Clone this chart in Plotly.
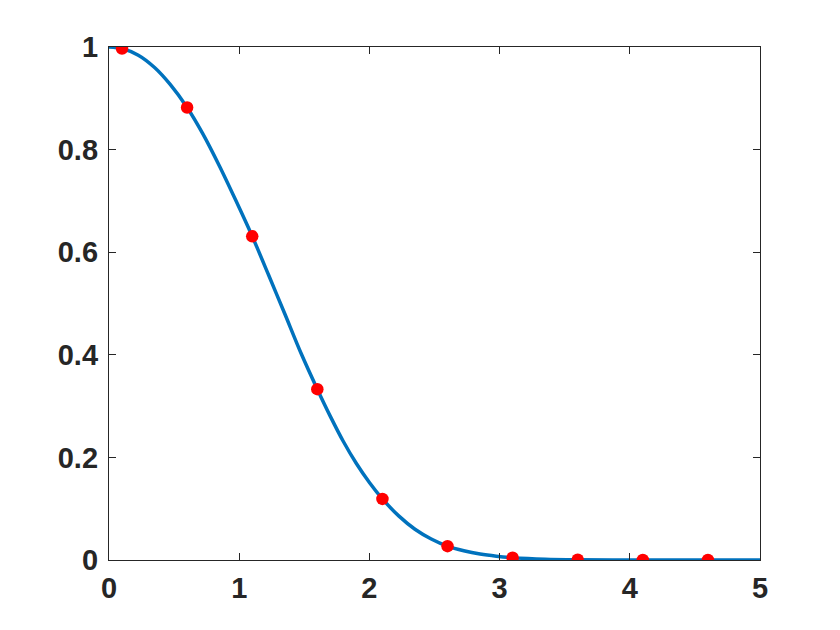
import plotly.graph_objects as go

# Curve samples
curve_x = [0.0, 0.1, 0.225, 0.35, 0.47, 0.6, 0.72, 0.85, 0.97, 1.1, 1.225, 1.35, 1.475, 1.6,
           1.7, 1.8, 1.9, 2.0, 2.1, 2.225, 2.35, 2.475, 2.6, 2.725, 2.85, 2.975, 3.1,
           3.35, 3.6, 4.1, 4.6, 5.0]
curve_y = [1.0, 0.997, 0.984, 0.960, 0.927, 0.882, 0.831, 0.767, 0.703, 0.631, 0.556, 0.480, 0.403, 0.333,
           0.280, 0.231, 0.188, 0.151, 0.119, 0.086, 0.060, 0.041, 0.027, 0.018, 0.0115, 0.0073, 0.0045,
           0.0015, 0.0005, 0.0, 0.0, 0.0]

# Red sample points
pts_x = [0.1, 0.6, 1.1, 1.6, 2.1, 2.6, 3.1, 3.6, 4.1, 4.6]
pts_y = [0.997, 0.882, 0.631, 0.333, 0.119, 0.027, 0.0045, 0.0005, 0.0, 0.0]

x_ticks = [0, 1, 2, 3, 4, 5]
y_ticks = [0, 0.2, 0.4, 0.6, 0.8, 1]
y_tick_text = ["0", "0.2", "0.4", "0.6", "0.8", "1"]

tick_font = dict(family="Liberation Sans, Arial", size=29, color="#262626", weight="bold")

fig = go.Figure()
fig.add_trace(go.Scatter(x=curve_x, y=curve_y, mode="lines",
                         line=dict(color="#0072BD", width=3.5, shape="spline", smoothing=0.8),
                         showlegend=False, hoverinfo="skip"))
fig.add_trace(go.Scatter(x=pts_x, y=pts_y, mode="markers",
                         marker=dict(color="#FF0000", size=12.5, line=dict(width=0)),
                         showlegend=False))

axis_common = dict(showgrid=False, zeroline=False, showline=True, mirror="ticks",
                   linecolor="#262626", linewidth=1.3, ticks="inside", ticklen=7,
                   tickcolor="#262626", tickwidth=1.3, tickfont=tick_font)

fig.update_xaxes(range=[0, 5], tickvals=x_ticks, ticklabelstandoff=2, **axis_common)
fig.update_yaxes(range=[0, 1], tickvals=y_ticks, ticktext=y_tick_text, ticklabelstandoff=4, **axis_common)

fig.update_layout(width=840, height=630, plot_bgcolor="white", paper_bgcolor="white",
                  margin=dict(l=101, r=88, t=39, b=78, pad=0),
                  font=dict(family="Liberation Sans, Arial", color="#262626"))

fig.write_html("out.html")
